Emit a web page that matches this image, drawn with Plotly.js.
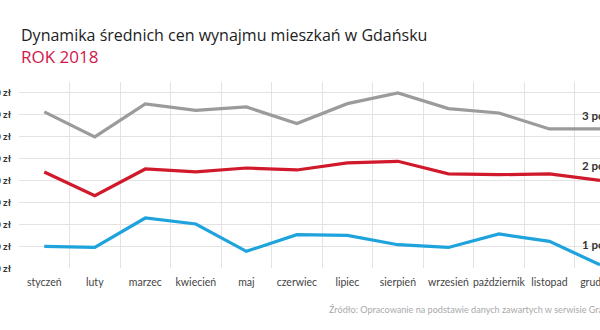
<!DOCTYPE html>
<html>
<head>
<meta charset="utf-8">
<script src="https://cdn.plot.ly/plotly-3.0.1.min.js"></script>
<style>html,body{margin:0;padding:0;background:#fff;overflow:hidden}#chart{width:600px;height:330px}</style>
</head>
<body>
<div id="chart"></div>
<script>
const months = ["styczeń","luty","marzec","kwiecień","maj","czerwiec","lipiec","sierpień","wrzesień","październik","listopad","grudzień"];
const rooms3 = [2627, 2398, 2700, 2641, 2672, 2520, 2702, 2800, 2657, 2617, 2471, 2471];
const rooms2 = [2078, 1861, 2105, 2078, 2114, 2096, 2160, 2175, 2060, 2053, 2060, 2001];
const rooms1 = [1398, 1388, 1657, 1602, 1352, 1505, 1498, 1413, 1388, 1511, 1443, 1230];
const seriesNames = ["3 pokoje", "2 pokoje", "1 pokój"];
const yTickVals = [1200, 1400, 1600, 1800, 2000, 2200, 2400, 2600, 2800];
const yTickText = yTickVals.map(v => String(v).replace(/(\d)(\d{3})$/, '$1 $2') + ' zł');

const colors = ["#9b9b9b", "#d0192b", "#1ea3dc"];
const seriesData = [rooms3, rooms2, rooms1];

const traces = seriesData.map((d, i) => ({
  type: 'scatter', mode: 'lines', x: months, y: d, name: seriesNames[i],
  line: {color: colors[i], width: 3.2}, hoverinfo: 'skip'
}));

const labelY = [2593, 2136, 1413];
const annotations = seriesNames.map((n, i) => ({
  x: 10.6, y: labelY[i], xref: 'x', yref: 'y', xanchor: 'left', yanchor: 'middle',
  text: n, showarrow: false, font: {family: 'Lato', size: 11.5, color: '#333', weight: 'bold'}
}));
annotations.push({
  x: 19, y: 35, xref: 'paper', yref: 'paper', xanchor: 'left', yanchor: 'middle',
  text: 'Dynamika średnich cen wynajmu mieszkań w Gdańsku', showarrow: false,
  font: {family: 'Open Sans', size: 16, color: '#222'}
});
annotations.push({
  x: 19, y: 57, xref: 'paper', yref: 'paper', xanchor: 'left', yanchor: 'middle',
  text: 'ROK 2018', showarrow: false,
  font: {family: 'Open Sans', size: 17, color: '#d1174b'}
});
annotations.push({
  x: 327, y: 310, xref: 'paper', yref: 'paper', xanchor: 'left', yanchor: 'middle',
  text: 'Źródło: Opracowanie na podstawie danych zawartych w serwisie Gratka.pl', showarrow: false,
  font: {family: 'Lato', size: 9.1, color: '#aaa'}
});

const L = 18.5, T = 82.4, W = 581.5, H = 185.9;
annotations.forEach(a => {
  if (a.xref === 'paper') { a.x = (a.x - L) / W; a.y = (T + H - a.y) / H; }
});

const layout = {
  width: 600, height: 330,
  margin: {l: L, r: 600 - L - W, t: T, b: 330 - T - H, pad: 0},
  paper_bgcolor: '#fff', plot_bgcolor: '#fff',
  showlegend: false,
  xaxis: {
    type: 'category', range: [-0.5, 11.0], tickson: 'boundaries',
    showgrid: true, gridcolor: '#e3e3e3', gridwidth: 1,
    zeroline: false, showline: false, ticks: '', tickangle: 0, automargin: false,
    ticklabelstandoff: 6,
    tickfont: {family: 'Lato', size: 10.5, color: '#444'}, fixedrange: true
  },
  yaxis: {
    range: [1200, 2900], tickvals: yTickVals, ticktext: yTickText,
    showgrid: true, gridcolor: '#e3e3e3', gridwidth: 1, automargin: false,
    zeroline: false, showline: false, ticks: '', ticklabelstandoff: 7,
    tickfont: {family: 'Lato', size: 10, color: '#333', weight: 'bold'}, fixedrange: true
  },
  annotations: annotations
};

Plotly.newPlot('chart', traces, layout, {displayModeBar: false, staticPlot: true});
</script>
</body>
</html>
